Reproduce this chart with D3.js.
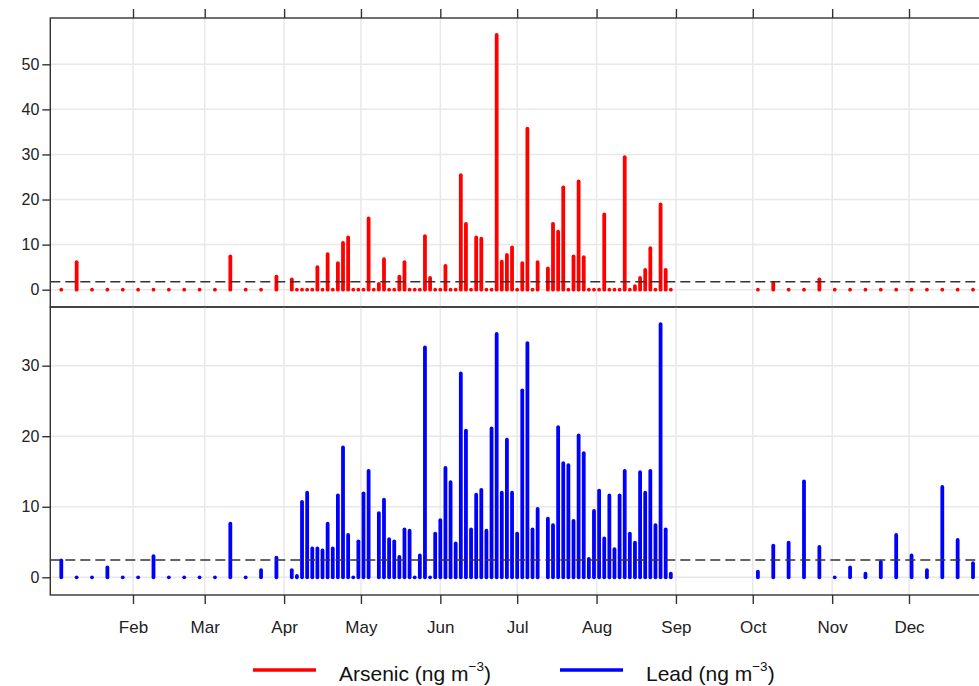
<!DOCTYPE html>
<html>
<head>
<meta charset="utf-8">
<script src="https://cdn.jsdelivr.net/npm/d3@7/dist/d3.min.js"></script>
<style>
  body { margin: 0; background: #fff; }
  svg { display: block; font-family: 'Liberation Sans', Arial, sans-serif; }
</style>
</head>
<body>
<div id="chart"></div>
<script>
'use strict'

// sampling dates: every 6 days in winter, every 2 days Apr-Aug, every 6 days again from Oct
const DATES = [
  '2019-01-04', '2019-01-10', '2019-01-16', '2019-01-22', '2019-01-28', '2019-02-03', '2019-02-09', '2019-02-15',
  '2019-02-21', '2019-02-27', '2019-03-05', '2019-03-11', '2019-03-17', '2019-03-23', '2019-03-29',
  '2019-04-04', '2019-04-06', '2019-04-08', '2019-04-10', '2019-04-12', '2019-04-14', '2019-04-16', '2019-04-18',
  '2019-04-20', '2019-04-22', '2019-04-24', '2019-04-26', '2019-04-28', '2019-04-30',
  '2019-05-02', '2019-05-04', '2019-05-06', '2019-05-08', '2019-05-10', '2019-05-12', '2019-05-14', '2019-05-16',
  '2019-05-18', '2019-05-20', '2019-05-22', '2019-05-24', '2019-05-26', '2019-05-28', '2019-05-30',
  '2019-06-01', '2019-06-03', '2019-06-05', '2019-06-07', '2019-06-09', '2019-06-11', '2019-06-13', '2019-06-15',
  '2019-06-17', '2019-06-19', '2019-06-21', '2019-06-23', '2019-06-25', '2019-06-27', '2019-06-29',
  '2019-07-01', '2019-07-03', '2019-07-05', '2019-07-07', '2019-07-09', '2019-07-11', '2019-07-13', '2019-07-15',
  '2019-07-17', '2019-07-19', '2019-07-21', '2019-07-23', '2019-07-25', '2019-07-27', '2019-07-29', '2019-07-31',
  '2019-08-02', '2019-08-04', '2019-08-06', '2019-08-08', '2019-08-10', '2019-08-12', '2019-08-14', '2019-08-16',
  '2019-08-18', '2019-08-20', '2019-08-22', '2019-08-24', '2019-08-26', '2019-08-28', '2019-08-30',
  '2019-10-03', '2019-10-09', '2019-10-15', '2019-10-21', '2019-10-27', '2019-11-02', '2019-11-08', '2019-11-14',
  '2019-11-20', '2019-11-26', '2019-12-02', '2019-12-08', '2019-12-14', '2019-12-20', '2019-12-26'
]

const ARSENIC = [
  0, 6.1, 0, 0, 0, 0, 0, 0, 0, 0, 0, 7.4, 0, 0, 2.9,
  2.3, 0, 0, 0, 0, 5.0, 0, 7.9, 0, 5.9, 10.4, 11.6, 0, 0,
  0, 15.8, 0, 1.3, 6.8, 0, 0, 2.9, 6.1, 0, 0, 0, 11.9, 2.6, 0,
  0, 5.3, 0, 0, 25.4, 14.6, 0, 11.6, 11.3, 0, 0, 56.5, 6.2, 7.7, 9.4,
  0, 5.9, 35.7, 0, 6.1, null, 4.7, 14.6, 12.9, 22.7, 0, 7.4, 24.0, 7.2, 0, 0,
  0, 16.7, 0, 0, 0, 29.4, 0, 0.8, 2.6, 4.4, 9.2, 0, 18.9, 4.4, 0,
  0, 1.5, 0, 0, 2.3, 0, 0, 0, 0, 0, 0, 0, 0, 0, 0
]

const LEAD = [
  2.4, 0, 0, 1.4, 0, 0, 3.0, 0, 0, 0, 0, 7.6, 0, 1.0, 2.8,
  1.0, 0.2, 10.7, 12.0, 4.1, 4.1, 3.8, 7.6, 4.1, 11.6, 18.4, 6.0, 0, 5.1,
  11.9, 15.1, null, 9.1, 11.0, 5.4, 5.1, 2.9, 6.8, 6.6, 0, 3.1, 32.6, 0, 6.2,
  8.1, 15.5, 13.5, 4.8, 28.9, 20.8, 6.8, 11.7, 12.4, 6.6, 21.1, 34.5, 12.0, 19.5, 12.0,
  6.2, 26.5, 33.2, 6.8, 9.7, null, 8.3, 7.4, 21.3, 16.2, 15.9, 8.0, 20.1, 17.6, 2.6, 9.4,
  12.3, 5.5, 11.6, 4.0, 11.6, 15.1, 6.2, 4.9, 14.9, 12.0, 15.1, 7.4, 35.9, 6.8, 0.5,
  0.8, 4.5, 4.9, 13.6, 4.3, 0, 1.4, 0.5, 2.2, 6.0, 3.1, 1.0, 12.8, 5.3, 2.0
]

const ARSENIC_LIMIT = 1.75
const LEAD_LIMIT = 2.45

const ARSENIC_TICKS = [0, 10, 20, 30, 40, 50]
const LEAD_TICKS = [0, 10, 20, 30]
const MONTH_TICKS = [
  '2019-02-01', '2019-03-01', '2019-04-01', '2019-05-01', '2019-06-01', '2019-07-01',
  '2019-08-01', '2019-09-01', '2019-10-01', '2019-11-01', '2019-12-01'
]
const LEGEND_NAMES = ['Arsenic', 'Lead']

const WIDTH = 979
const HEIGHT = 686
const LEFT = 50.3
const RIGHT = 992
const FRAME_COLOR = '#333'
const GRID_COLOR = '#e8e8e8'

const parse = d3.utcParse('%Y-%m-%d')
const dates = DATES.map(parse)
const months = MONTH_TICKS.map(parse)

const x = d3.scaleUtc()
  .domain([months[0], months[months.length - 1]])
  .range([133, 909])

const PANELS = [
  { values: ARSENIC, limit: ARSENIC_LIMIT, ticks: ARSENIC_TICKS, domain: [-3.84, 60.27], top: 18, bottom: 307, color: '#ff0000' },
  { values: LEAD, limit: LEAD_LIMIT, ticks: LEAD_TICKS, domain: [-2.51, 38.32], top: 307, bottom: 595, color: '#0000ff' }
]

const svg = d3.select('#chart').append('svg')
  .attr('width', WIDTH)
  .attr('height', HEIGHT)

PANELS.forEach((panel, index) => {
  const y = d3.scaleLinear()
    .domain(panel.domain)
    .range([panel.bottom, panel.top])

  const g = svg.append('g')

  // grid
  g.selectAll('.vgrid').data(months).join('line')
    .attr('x1', d => x(d)).attr('x2', d => x(d))
    .attr('y1', panel.top).attr('y2', panel.bottom)
    .attr('stroke', GRID_COLOR).attr('stroke-width', 1.5)

  g.selectAll('.hgrid').data(panel.ticks).join('line')
    .attr('x1', LEFT).attr('x2', RIGHT)
    .attr('y1', d => y(d)).attr('y2', d => y(d))
    .attr('stroke', GRID_COLOR).attr('stroke-width', 1.5)

  // vertical bars from zero, zero values show as a dot
  const points = dates.map((d, i) => ({ date: d, value: panel.values[i] }))
    .filter(d => d.value !== null)

  g.selectAll('.bar').data(points).join('line')
    .attr('x1', d => x(d.date)).attr('x2', d => x(d.date))
    .attr('y1', y(0)).attr('y2', d => y(d.value))
    .attr('stroke', panel.color)
    .attr('stroke-width', 3.8)
    .attr('stroke-linecap', 'round')

  // limit line
  g.append('line')
    .attr('x1', LEFT).attr('x2', RIGHT)
    .attr('y1', y(panel.limit)).attr('y2', y(panel.limit))
    .attr('stroke', FRAME_COLOR)
    .attr('stroke-width', 1.4)
    .attr('stroke-dasharray', '10,5')

  g.append('rect')
    .attr('x', LEFT).attr('y', panel.top)
    .attr('width', RIGHT - LEFT).attr('height', panel.bottom - panel.top)
    .attr('fill', 'none')
    .attr('stroke', FRAME_COLOR)
    .attr('stroke-width', 1.4)

  g.append('g')
    .attr('class', 'y-axis')
    .attr('transform', 'translate(' + LEFT + ',0)')
    .call(d3.axisLeft(y).tickValues(panel.ticks).tickSize(8).tickPadding(3))

  if (index === 0) {
    g.append('g')
      .attr('transform', 'translate(0,' + panel.top + ')')
      .call(d3.axisTop(x).tickValues(months).tickSize(9).tickFormat(''))
  } else {
    g.append('g')
      .attr('class', 'x-axis')
      .attr('transform', 'translate(0,' + panel.bottom + ')')
      .call(d3.axisBottom(x).tickValues(months).tickSize(9).tickPadding(17).tickFormat(d3.utcFormat('%b')))
  }
})

svg.selectAll('.domain').remove()
svg.selectAll('.tick line').attr('stroke', FRAME_COLOR).attr('stroke-width', 1.4)
svg.selectAll('.tick text')
  .attr('fill', '#222')
  .style('font-family', "'Liberation Sans', Arial, sans-serif")
svg.selectAll('.y-axis .tick text').style('font-size', '16px')
svg.selectAll('.x-axis .tick text').style('font-size', '17px')

// legend
const legend = svg.append('g')
const LEGEND_X = [253, 560]
LEGEND_NAMES.forEach((name, i) => {
  legend.append('line')
    .attr('x1', LEGEND_X[i]).attr('x2', LEGEND_X[i] + 63)
    .attr('y1', 670).attr('y2', 670)
    .attr('stroke', PANELS[i].color)
    .attr('stroke-width', 3.5)
  const text = legend.append('text')
    .attr('x', LEGEND_X[i] + 86)
    .attr('y', 681)
    .attr('fill', '#111')
    .style('font-size', '21px')
  text.append('tspan').text(name + ' (ng m')
  text.append('tspan').attr('dy', -10).style('font-size', '13.5px').text('\u22123')
  text.append('tspan').attr('dy', 10).text(')')
})
</script>
</body>
</html>
